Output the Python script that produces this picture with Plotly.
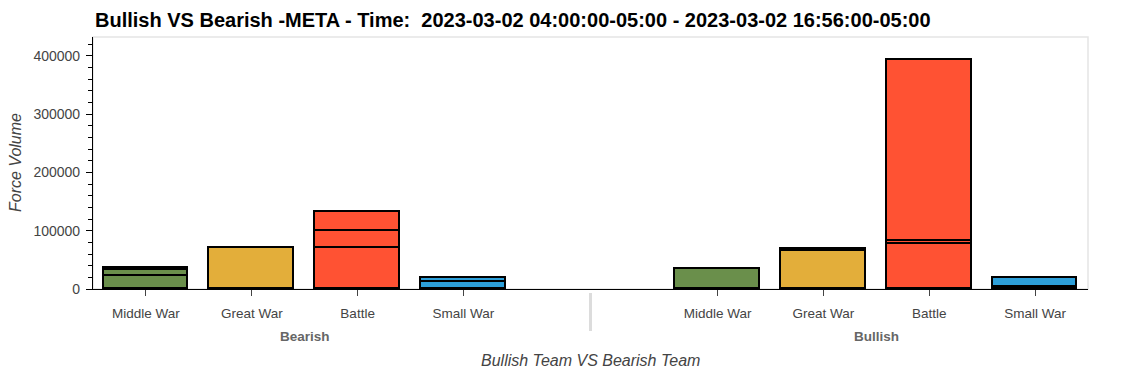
import plotly.graph_objects as go

# ---------------- data ----------------
groups = ["Bearish", "Bullish"]
categories = ["Middle War", "Great War", "Battle", "Small War"]
cat_colors = ["#6a8f4b", "#e3ae3a", "#ff5233", "#2d9fd9"]

# stacked layers (bottom -> top) per group, in category order
bearish_layer1 = [22300, 71000, 71000, 12700]
bearish_layer2 = [9800, None, 28000, 6200]
bearish_layer3 = [4000, None, 32700, None]
bullish_layer1 = [34300, 65900, 77900, 2900]
bullish_layer2 = [None, 3400, 4500, 16000]
bullish_layer3 = [None, None, 310700, None]

title_text = "Bullish VS Bearish -META - Time:  2023-03-02 04:00:00-05:00 - 2023-03-02 16:56:00-05:00"
x_title = "Bullish Team VS Bearish Team"
y_title = "Force Volume"

# ---------------- layout helpers ----------------
W, H = 1125, 375
ML, MR, MT, MB = 93, 37, 37, 86
group_pad = 1.4
n = len(categories)
span = len(groups) * n + (len(groups) - 1) * group_pad

positions = []
tick_text = []
for g in range(len(groups)):
    for i in range(n):
        positions.append(g * (n + group_pad) + i + 0.5)
        tick_text.append(categories[i])
group_centers = [g * (n + group_pad) + n / 2 for g in range(len(groups))]
separator_x = n + group_pad / 2

plot_h = H - MT - MB
def py(pix):  # pixel y -> paper y
    return (H - MB - pix) / plot_h

layers = [
    bearish_layer1 + bullish_layer1,
    bearish_layer2 + bullish_layer2,
    bearish_layer3 + bullish_layer3,
]

fig = go.Figure()
for k, vals in enumerate(layers):
    fig.add_trace(go.Bar(
        x=positions, y=vals, width=0.8,
        marker=dict(color=cat_colors * len(groups), line=dict(color="black", width=1.6)),
        name=f"layer {k+1}", showlegend=False,
    ))

font_family = "Liberation Sans, Arial, sans-serif"
fig.update_layout(
    width=W, height=H,
    margin=dict(l=ML, r=MR, t=MT, b=MB, pad=0),
    barmode="stack",
    plot_bgcolor="white", paper_bgcolor="white",
    font=dict(family=font_family, color="#444444"),
    title=dict(text=f"<b>{title_text}</b>", x=95 / W, xanchor="left", xref="container",
               y=1 - 20 / H, yanchor="middle", yref="container",
               font=dict(size=20, color="black", family=font_family)),
    xaxis=dict(range=[0, span], tickmode="array", tickvals=positions, ticktext=tick_text,
               showgrid=False, zeroline=False, showline=True, linecolor="black", linewidth=1.2,
               ticks="outside", ticklen=6, tickcolor="#444444", tickwidth=1,
               tickfont=dict(size=13.5, color="#444444"), ticklabelstandoff=6),
    yaxis=dict(range=[0, 432100], tickmode="linear", tick0=0, dtick=100000, tickformat="d",
               showgrid=False, zeroline=False, showline=True, linecolor="black", linewidth=1.2,
               ticks="outside", ticklen=6, tickcolor="black", tickwidth=1,
               tickfont=dict(size=14, color="#444444"), ticklabelstandoff=3,
               minor=dict(dtick=20000, ticks="outside", ticklen=4, tickcolor="black", tickwidth=1)),
    bargap=0,
)

# plot outline (light gray frame)
fig.add_shape(type="rect", xref="paper", yref="paper", x0=0, x1=1, y0=0, y1=1,
              line=dict(color="#e5e5e5", width=1.5), layer="below")
# group separator
fig.add_shape(type="line", xref="x", yref="paper", x0=separator_x, x1=separator_x,
              y0=py(293), y1=py(331), line=dict(color="#dcdcdc", width=3))

# group labels
for g, name in enumerate(groups):
    fig.add_annotation(x=group_centers[g], xref="x", y=py(336), yref="paper",
                       text=f"<b>{name}</b>", showarrow=False, yanchor="middle",
                       font=dict(size=13.5, color="#666666", family=font_family))

# axis titles
fig.add_annotation(x=0.5, xref="paper", y=py(361), yref="paper", text=f"<i>{x_title}</i>",
                   showarrow=False, yanchor="middle",
                   font=dict(size=16, color="#444444", family=font_family))
fig.add_annotation(x=(15 - ML) / (W - ML - MR), xref="paper", y=0.5, yref="paper",
                   text=f"<i>{y_title}</i>", showarrow=False, textangle=-90,
                   xanchor="center", yanchor="middle",
                   font=dict(size=16, color="#444444", family=font_family))

fig.write_html("out.html")
